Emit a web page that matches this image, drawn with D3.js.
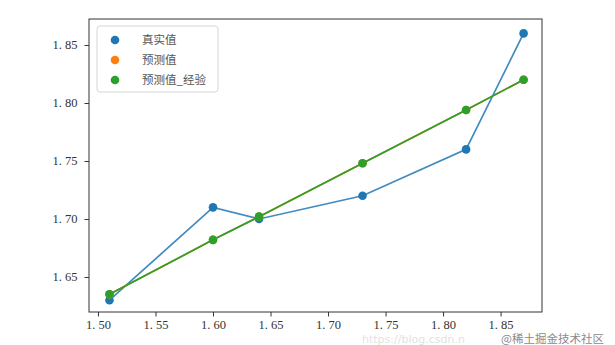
<!DOCTYPE html>
<html lang="zh">
<head>
<meta charset="UTF-8">
<title>真实值 vs 预测值</title>
<script src="https://d3js.org/d3.v7.min.js"></script>
<style>
    body, html { margin: 0; background: #fff; overflow: hidden; }
    svg { display: block; }
    .tick text { font-family: 'Liberation Serif', 'DejaVu Serif', serif; font-size: 12.5px; fill: #333; }
    .legend text { font-family: 'Noto Sans CJK SC', sans-serif; font-size: 11.5px; fill: #555; }
</style>
</head>
<body>
<svg id="chart" width="615" height="345"></svg>
<script>
    // data
    const xs = [1.51, 1.60, 1.64, 1.73, 1.82, 1.87];
    const realVals = [1.63, 1.71, 1.70, 1.72, 1.76, 1.86];
    const predVals = [1.635, 1.682, 1.702, 1.748, 1.794, 1.82];
    const predExpVals = [1.635, 1.682, 1.702, 1.748, 1.794, 1.82];
    const xTicks = [1.50, 1.55, 1.60, 1.65, 1.70, 1.75, 1.80, 1.85];
    const yTicks = [1.65, 1.70, 1.75, 1.80, 1.85];
    const seriesNames = ['真实值', '预测值', '预测值_经验'];
    const colors = ['#1f77b4', '#ff7f0e', '#2ca02c'];

    const plotL = 89, plotR = 542, plotT = 19, plotB = 312;
    const svg = d3.select('#chart');

    const x = d3.scaleLinear().domain([1.4922, 1.886]).range([plotL, plotR]);
    const y = d3.scaleLinear().domain([1.6198, 1.8724]).range([plotB, plotT]);

    const fmt = d3.format('.2f');
    const fmtTick = v => fmt(v).replace('.', '. ');

    svg.append('g')
        .attr('transform', `translate(0,${plotB})`)
        .call(d3.axisBottom(x).tickValues(xTicks).tickFormat(fmtTick).tickSize(4.5).tickPadding(4))
        .call(g => g.select('.domain').remove())
        .call(g => g.selectAll('line').attr('stroke', '#333'));

    svg.append('g')
        .attr('transform', `translate(${plotL},0)`)
        .call(d3.axisLeft(y).tickValues(yTicks).tickFormat(fmtTick).tickSize(4.5).tickPadding(7))
        .call(g => g.select('.domain').remove())
        .call(g => g.selectAll('line').attr('stroke', '#333'));

    const line = d3.line().x((d, i) => x(xs[i])).y(d => y(d));

    const series = [realVals, predVals, predExpVals];
    series.forEach((vals, k) => {
        svg.append('path')
            .datum(vals)
            .attr('fill', 'none')
            .attr('stroke', colors[k])
            .attr('stroke-opacity', k === 0 ? 0.85 : 1)
            .attr('stroke-width', 1.7)
            .attr('d', line);
        svg.append('g').selectAll('circle')
            .data(vals)
            .join('circle')
            .attr('cx', (d, i) => x(xs[i]))
            .attr('cy', d => y(d))
            .attr('r', 4.3)
            .attr('fill', colors[k]);
    });

    // frame
    svg.append('rect')
        .attr('x', plotL).attr('y', plotT)
        .attr('width', plotR - plotL).attr('height', plotB - plotT)
        .attr('fill', 'none').attr('stroke', '#333').attr('stroke-width', 1);

    // legend
    const legend = svg.append('g').attr('class', 'legend');
    legend.append('rect')
        .attr('x', 97).attr('y', 26).attr('width', 121).attr('height', 66)
        .attr('rx', 3).attr('fill', '#fff').attr('fill-opacity', 0.8)
        .attr('stroke', '#d6d6d6');
    seriesNames.forEach((name, k) => {
        const cy = 40 + k * 20;
        legend.append('circle').attr('cx', 115).attr('cy', cy).attr('r', 4.3).attr('fill', colors[k]);
        legend.append('text').attr('x', 142).attr('y', cy + 4).text(name);
    });

    // watermarks (kept just under the tick labels so they do not collide)
    svg.append('text')
        .attr('x', 362).attr('y', 343)
        .attr('font-family', 'DejaVu Sans, sans-serif').attr('font-size', 11)
        .attr('fill', '#e2e2e2')
        .text('https://blog.csdn.n');
    svg.append('text')
        .attr('x', 604).attr('y', 343).attr('text-anchor', 'end')
        .attr('font-family', 'Noto Sans CJK SC, sans-serif').attr('font-size', 11.5)
        .attr('fill', '#8a8a8a')
        .text('@稀土掘金技术社区');
</script>
</body>
</html>
